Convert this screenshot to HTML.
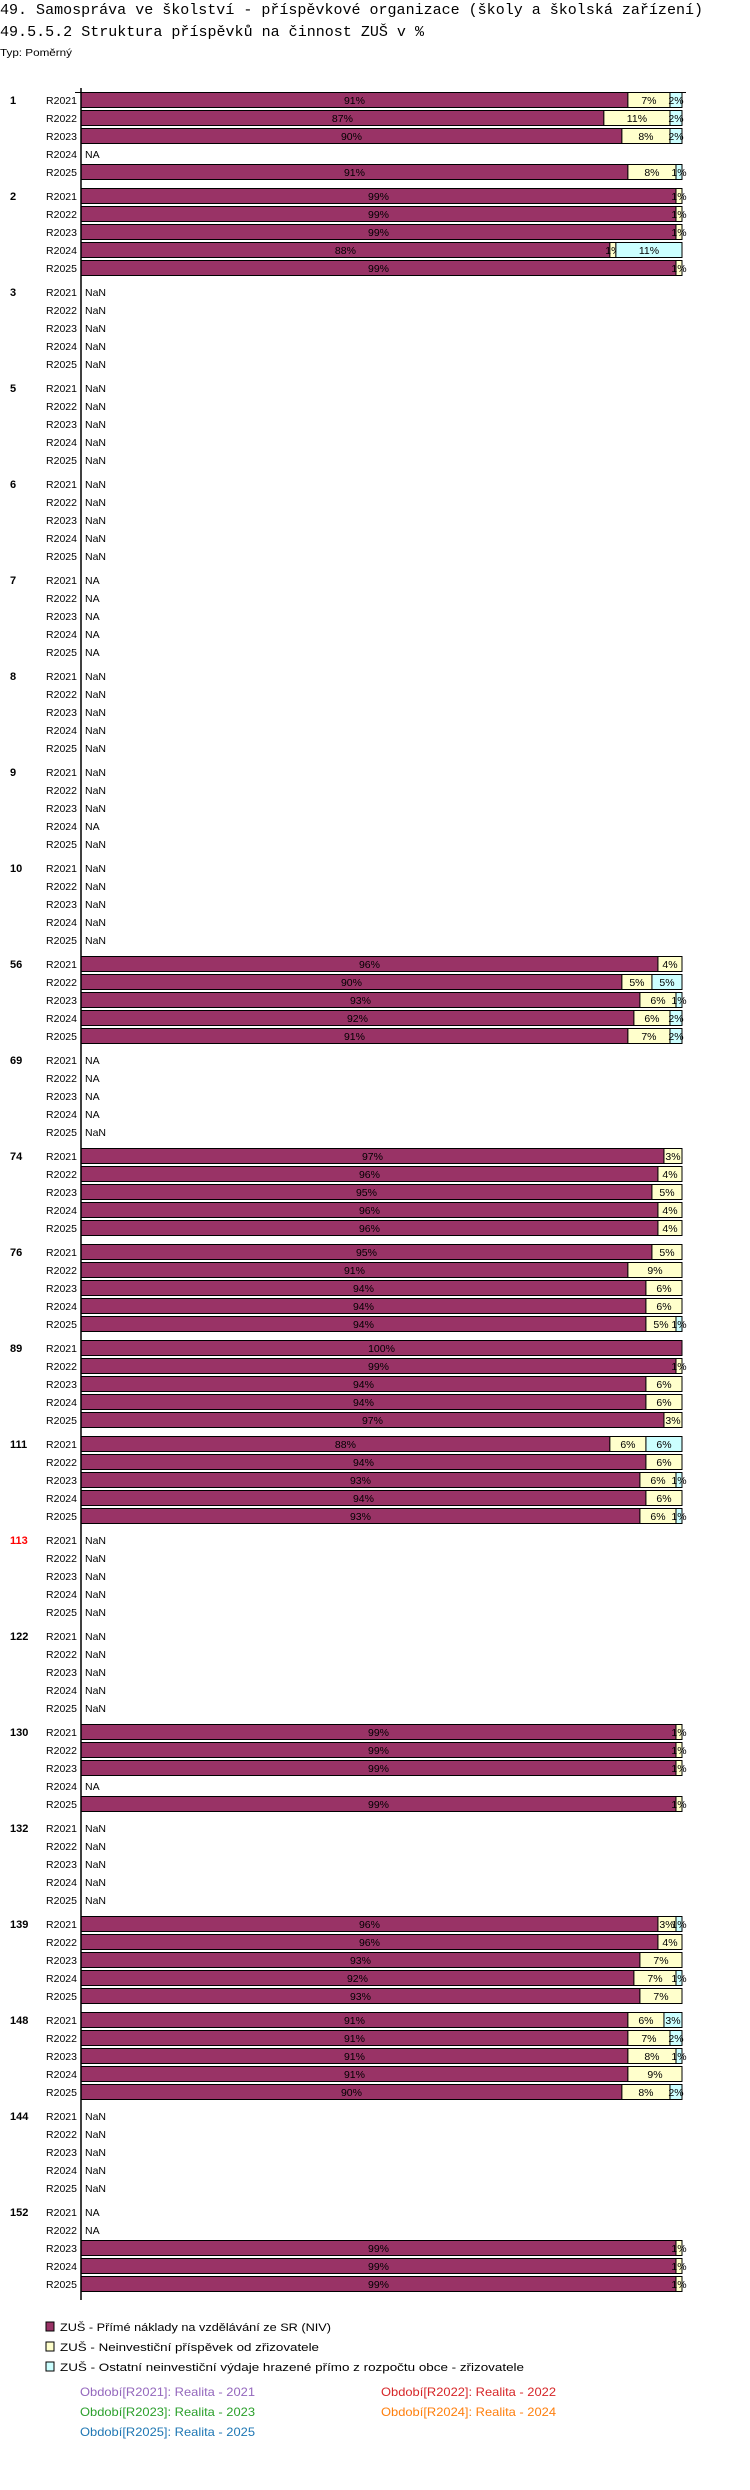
<!DOCTYPE html>
<html><head><meta charset="utf-8"><style>
html,body{margin:0;padding:0;background:#fff;}
svg{display:block;font-family:"Liberation Sans",sans-serif;}
</style></head><body>
<svg id="chart" width="750" height="2490" viewBox="0 0 750 2490" xmlns="http://www.w3.org/2000/svg">
<text x="0" y="14" font-family="Liberation Mono, monospace" font-size="15" textLength="703" lengthAdjust="spacingAndGlyphs">49. Samospráva ve školství - příspěvkové organizace (školy a školská zařízení)</text>
<text x="0" y="36" font-family="Liberation Mono, monospace" font-size="15" textLength="424" lengthAdjust="spacingAndGlyphs">49.5.5.2 Struktura příspěvků na činnost ZUŠ v %</text>
<text x="0" y="56" font-size="10" textLength="72" lengthAdjust="spacingAndGlyphs">Typ: Poměrný</text>
<g id="plot"></g>
<g id="legend">
<rect x="46" y="2322" width="8" height="9" fill="#993366" stroke="#000"/>
<text x="60" y="2331" font-size="11" textLength="271" lengthAdjust="spacingAndGlyphs">ZUŠ - Přímé náklady na vzdělávání ze SR (NIV)</text>
<rect x="46" y="2342" width="8" height="9" fill="#ffffcc" stroke="#000"/>
<text x="60" y="2351" font-size="11" textLength="259" lengthAdjust="spacingAndGlyphs">ZUŠ - Neinvestiční příspěvek od zřizovatele</text>
<rect x="46" y="2362" width="8" height="9" fill="#ccffff" stroke="#000"/>
<text x="60" y="2371" font-size="11" textLength="464" lengthAdjust="spacingAndGlyphs">ZUŠ - Ostatní neinvestiční výdaje hrazené přímo z rozpočtu obce - zřizovatele</text>
<text x="80" y="2396" font-size="12" fill="#9467bd" textLength="175" lengthAdjust="spacingAndGlyphs">Období[R2021]: Realita - 2021</text>
<text x="381" y="2396" font-size="12" fill="#d62728" textLength="175" lengthAdjust="spacingAndGlyphs">Období[R2022]: Realita - 2022</text>
<text x="80" y="2416" font-size="12" fill="#2ca02c" textLength="175" lengthAdjust="spacingAndGlyphs">Období[R2023]: Realita - 2023</text>
<text x="381" y="2416" font-size="12" fill="#ff7f0e" textLength="175" lengthAdjust="spacingAndGlyphs">Období[R2024]: Realita - 2024</text>
<text x="80" y="2436" font-size="12" fill="#1f77b4" textLength="175" lengthAdjust="spacingAndGlyphs">Období[R2025]: Realita - 2025</text>
</g>
</svg>
<script>
const groups = ["1","2","3","5","6","7","8","9","10","56","69","74","76","89","111","113","122","130","132","139","148","144","152"];
const periods = ["R2021","R2022","R2023","R2024","R2025"];
// purple series: direct costs (%); strings mark missing rows
const direct = [
 [91,87,90,"NA",91],[99,99,99,88,99],["NaN","NaN","NaN","NaN","NaN"],["NaN","NaN","NaN","NaN","NaN"],
 ["NaN","NaN","NaN","NaN","NaN"],["NA","NA","NA","NA","NA"],["NaN","NaN","NaN","NaN","NaN"],["NaN","NaN","NaN","NA","NaN"],
 ["NaN","NaN","NaN","NaN","NaN"],[96,90,93,92,91],["NA","NA","NA","NA","NaN"],[97,96,95,96,96],
 [95,91,94,94,94],[100,99,94,94,97],[88,94,93,94,93],["NaN","NaN","NaN","NaN","NaN"],
 ["NaN","NaN","NaN","NaN","NaN"],[99,99,99,"NA",99],["NaN","NaN","NaN","NaN","NaN"],[96,96,93,92,93],
 [91,91,91,91,90],["NaN","NaN","NaN","NaN","NaN"],["NA","NA",99,99,99]
];
// yellow series: founder contribution (%)
const founder = [
 [7,11,8,0,8],[1,1,1,1,1],[0,0,0,0,0],[0,0,0,0,0],[0,0,0,0,0],[0,0,0,0,0],[0,0,0,0,0],[0,0,0,0,0],
 [0,0,0,0,0],[4,5,6,6,7],[0,0,0,0,0],[3,4,5,4,4],[5,9,6,6,5],[0,1,6,6,3],[6,6,6,6,6],[0,0,0,0,0],
 [0,0,0,0,0],[1,1,1,0,1],[0,0,0,0,0],[3,4,7,7,7],[6,7,8,9,8],[0,0,0,0,0],[0,0,1,1,1]
];
// cyan series: other expenses (%)
const other = [
 [2,2,2,0,1],[0,0,0,11,0],[0,0,0,0,0],[0,0,0,0,0],[0,0,0,0,0],[0,0,0,0,0],[0,0,0,0,0],[0,0,0,0,0],
 [0,0,0,0,0],[0,5,1,2,2],[0,0,0,0,0],[0,0,0,0,0],[0,0,0,0,1],[0,0,0,0,0],[6,0,1,0,1],[0,0,0,0,0],
 [0,0,0,0,0],[0,0,0,0,0],[0,0,0,0,0],[1,0,0,1,0],[3,2,1,0,2],[0,0,0,0,0],[0,0,0,0,0]
];
const highlight = ["113"];

{
const NS = "http://www.w3.org/2000/svg";
const plot = document.getElementById("plot");
const X0 = 81, X1 = 682;
const xScale = v => (X1 - X0) * v / 100;
const yRow = (g, r) => 100 + g * 96 + r * 18;
const colors = ["#993366","#ffffcc","#ccffff"];
const segNames = ["direct","founder","other"];
function mk(tag, attrs, text){
  const e = document.createElementNS(NS, tag);
  for (const k in attrs) e.setAttribute(k, attrs[k]);
  if (text !== undefined) e.textContent = text;
  plot.appendChild(e);
  return e;
}
groups.forEach((gname, g) => {
  const gl = mk("text", {x:10, y:yRow(g,0)+4, "font-size":11, "font-weight":"bold", fill: highlight.includes(gname) ? "#ff0000" : "#000"}, gname);
  
  
  periods.forEach((p, r) => {
    const cy = yRow(g, r);
    const rl = mk("text", {x:77, y:cy+4, "font-size":10.5, "text-anchor":"end"}, p);
    
    
    const d = direct[g][r];
    if (typeof d === "string") {
      const na = mk("text", {x:85, y:cy+4, "font-size":10.5}, d);
      
      
      return;
    }
    const vals = [d, founder[g][r], other[g][r]];
    let x = X0;
    vals.forEach((v, s) => {
      if (!v) return;
      const w = xScale(v);
      const rect = mk("rect", {x:x, y:cy-7.5, width:w, height:15, fill:colors[s], stroke:"#000", "stroke-width":1});
      
      
      const t = mk("text", {x:x + w/2, y:cy+4, "font-size":10.5, "text-anchor":"middle"}, v + "%");
      
      
      x += w;
    });
  });
});
const axisLine = mk("line", {x1:X0, y1:88, x2:X0, y2:2300, stroke:"#000", "stroke-width":1.5});


const topLine = mk("line", {x1:75, y1:92.5, x2:686, y2:92.5, stroke:"#000", "stroke-width":1});


}
</script>
</body></html>
